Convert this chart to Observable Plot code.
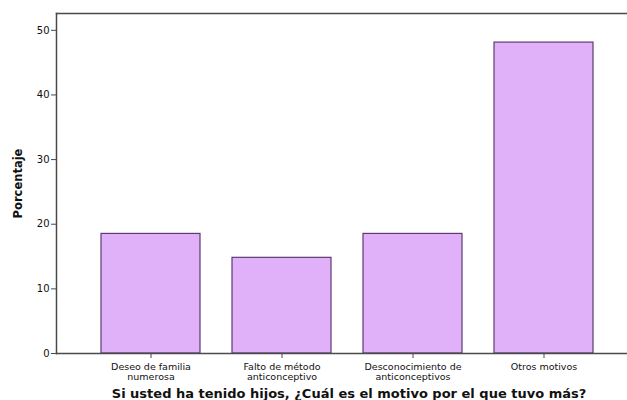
<!DOCTYPE html>
<html>
<head>
<meta charset="utf-8">
<script src="https://cdn.jsdelivr.net/npm/d3@7"></script>
<script src="https://cdn.jsdelivr.net/npm/@observablehq/plot@0.6"></script>
<style>
  html, body { margin: 0; padding: 0; background: #fff; }
  #chart svg { display: block; }
</style>
</head>
<body>
<div id="chart"></div>
<script>
const categories = ["Deseo de familia\nnumerosa", "Falto de método\nanticonceptivo", "Desconocimiento de\nanticonceptivos", "Otros motivos"];
const values = [18.5, 14.8, 18.5, 48.1];
const yTicks = [0, 10, 20, 30, 40, 50];
const xTitle = "Si usted ha tenido hijos, ¿Cuál es el motivo por el que tuvo más?";
const yTitle = "Porcentaje";

const data = categories.map((c, i) => ({cat: c, val: values[i]}));
const axisColor = "#4a4a4a";

const chart = Plot.plot({
  width: 627,
  height: 400,
  marginLeft: 56,
  marginRight: 0,
  marginTop: 13,
  marginBottom: 47,
  style: {fontFamily: "'DejaVu Sans', Verdana, sans-serif", fontSize: "9.5px", color: "#111", background: "#fff"},
  x: {domain: categories, range: [56, 638], paddingInner: 0.247, paddingOuter: 0.336, axis: null},
  y: {domain: [0, 52.6], axis: null},
  marks: [
    Plot.barY(data, {x: "cat", y: "val", fill: "#e0b1f8", stroke: "#5e3a72", strokeWidth: 1.2}),
    Plot.axisY(yTicks, {tickSize: 5, tickPadding: 2, stroke: axisColor, fontSize: 10, label: null}),
    Plot.axisX(categories, {tickSize: 5, tickPadding: 4, stroke: axisColor, fontSize: 9.5, lineHeight: 1.1, label: null}),
    Plot.frame({anchor: "top", stroke: axisColor, strokeWidth: 1.5}),
    Plot.frame({anchor: "left", stroke: axisColor, strokeWidth: 1.5}),
    Plot.frame({anchor: "bottom", stroke: axisColor, strokeWidth: 1.5}),
    Plot.text([xTitle], {frameAnchor: "bottom", dx: 7, dy: 44, fontWeight: "bold", fontSize: 13, fill: "#111"}),
    Plot.text([yTitle], {frameAnchor: "left", textAnchor: "middle", dx: -38, rotate: -90, fontWeight: "bold", fontSize: 11.5, fill: "#111"})
  ]
});
document.getElementById("chart").appendChild(chart);
</script>
</body>
</html>
